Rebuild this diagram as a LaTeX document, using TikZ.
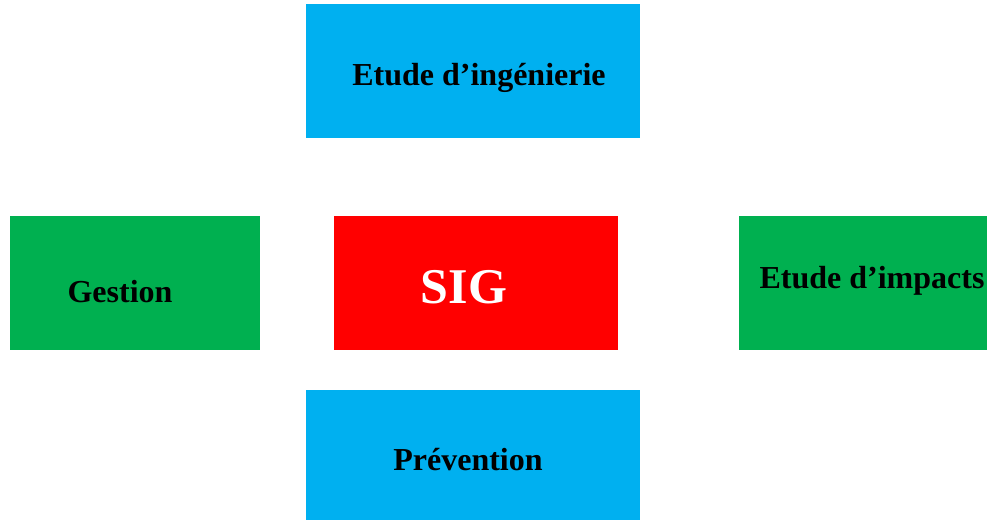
\documentclass[tikz,border=0pt]{standalone}
\usepackage{fontspec}
\setmainfont{Liberation Serif}
\definecolor{cblue}{HTML}{00B0F0}
\definecolor{cgreen}{HTML}{00B050}
\definecolor{cred}{HTML}{FF0000}
\tikzset{
  boxnode/.style={rectangle, inner sep=0pt, outer sep=0pt, draw=none},
  lbl/.style={anchor=base, inner sep=0pt, font=\fontsize{32}{36}\selectfont\bfseries},
  biglbl/.style={anchor=base, inner sep=0pt, text=white, font=\fontsize{50}{56}\selectfont\bfseries}
}
\begin{document}
\begin{tikzpicture}[x=1pt,y=-1pt]
\useasboundingbox (0,0) rectangle (987,519);
\node[boxnode, fill=cblue, minimum width=334pt, minimum height=133pt] (top) at (473,71) {};
\node[boxnode, fill=cgreen, minimum width=250pt, minimum height=134pt] (left) at (135,283) {};
\node[boxnode, fill=cred, minimum width=284pt, minimum height=134pt] (center) at (476,283) {};
\node[boxnode, fill=cgreen, minimum width=248pt, minimum height=134pt] (right) at (863,283) {};
\node[boxnode, fill=cblue, minimum width=334pt, minimum height=130pt] (bottom) at (473,455) {};
\node[lbl] (ltop) at (479,85) {Etude d’ingénierie};
\node[lbl] (lleft) at (120,302) {Gestion};
\node[biglbl] (lcenter) at (464,303) {SIG};
\node[lbl] (lright) at (872,288) {Etude d’impacts};
\node[lbl] (lbottom) at (468,470) {Prévention};
\end{tikzpicture}
\end{document}
